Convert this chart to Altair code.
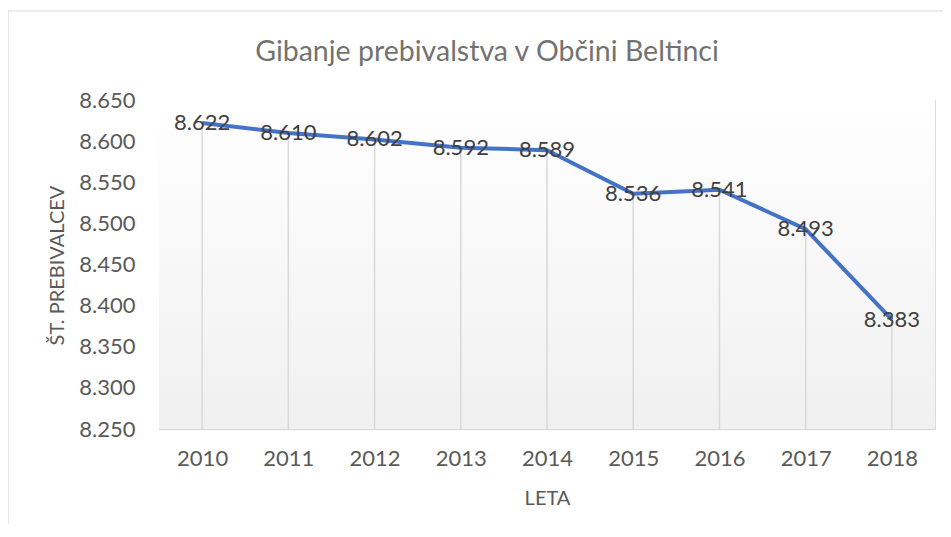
import altair as alt
import pandas as pd

title_text = "Gibanje prebivalstva v Občini Beltinci"
years = ["2010", "2011", "2012", "2013", "2014", "2015", "2016", "2017", "2018"]
population = [8622, 8610, 8602, 8592, 8589, 8536, 8541, 8493, 8383]
y_ticks = [8250, 8300, 8350, 8400, 8450, 8500, 8550, 8600, 8650]

df = pd.DataFrame({"leto": years, "pop": population})

FONT = "Lato"
GRAY = "#595959"
FS = 22

x_enc = alt.X("leto:O", scale=alt.Scale(type="point", padding=0.5),
              axis=alt.Axis(title="LETA", labelAngle=0, labelFontSize=FS, labelColor=GRAY,
                            labelFont=FONT, labelPadding=19, ticks=False, domainColor="#d9d9d9",
                            domainWidth=1.5, titleFont=FONT, titleFontSize=20, titleFontWeight="normal",
                            titleColor=GRAY, titleY=69, titleBaseline="middle"))
y_scale = alt.Scale(domain=[8250, 8650], nice=False, zero=False)
y_enc = alt.Y("pop:Q", scale=y_scale,
              axis=alt.Axis(title="ŠT. PREBIVALCEV", values=y_ticks, grid=False, domain=False, ticks=False,
                            labelExpr="replace(format(datum.value, ',.0f'), ',', '.')",
                            labelFontSize=FS, labelColor=GRAY, labelFont=FONT, labelPadding=24,
                            titleFont=FONT, titleFontSize=20, titleFontWeight="normal", titleColor=GRAY,
                            titleAngle=270, titleX=-102, titleY=165, titleBaseline="middle",
                            titleAlign="center"))

base = alt.Chart(df)

bg = base.mark_rect(
    color=alt.Gradient(gradient="linear", x1=0, x2=0, y1=0, y2=1,
                       stops=[alt.GradientStop(color="#ffffff", offset=0),
                              alt.GradientStop(color="#f0f0f0", offset=1)])
).encode(x=alt.value(0), x2=alt.value("width"), y=alt.value(0), y2=alt.value("height"))

title_df = pd.DataFrame({"t": [title_text]})
frame = alt.Chart(title_df).mark_rect(fillOpacity=0, stroke="#d9d9d9", strokeWidth=1.2).encode(
    x=alt.value(-151), x2=alt.value(840), y=alt.value(-89), y2=alt.value(460))

title = alt.Chart(title_df).mark_text(font=FONT, fontSize=28.5, color="#727272",
                                      baseline="alphabetic", align="center").encode(
    x=alt.value(328), y=alt.value(-39), text="t:N")

rules = base.mark_rule(color="#d9d9d9", strokeWidth=1.5).encode(
    x=x_enc, y=alt.Y("pop:Q", scale=y_scale), y2=alt.datum(8250))

line = base.mark_line(color="#4472C4", strokeWidth=4).encode(x=x_enc, y=y_enc)

labels = base.transform_calculate(
    label="replace(format(datum.pop, ',.0f'), ',', '.')"
).mark_text(font=FONT, fontSize=FS, color="#404040", baseline="middle", align="center").encode(
    x="leto:O", y=alt.Y("pop:Q", scale=y_scale), text="label:N")

chart = alt.layer(bg, frame, title, rules, line, labels).properties(
    width=776, height=329,
    padding={"left": 151, "top": 92, "right": 8, "bottom": 95},
    autosize=alt.AutoSizeParams(type="none"),
).configure_view(stroke=None).configure(background="white")

chart.save("out.html", embed_options={"renderer": "svg", "actions": False})
